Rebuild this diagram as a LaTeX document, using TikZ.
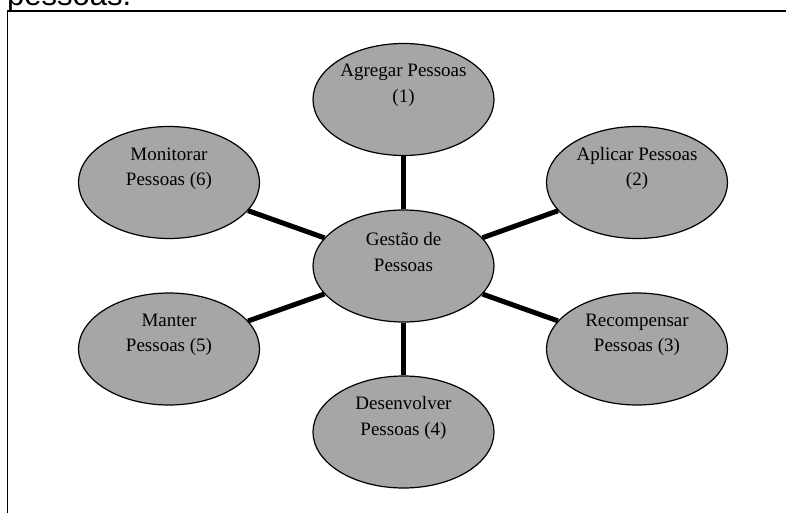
\documentclass[tikz,border=0pt]{standalone}
\usepackage{fontspec}
\setmainfont{Liberation Serif}
\newfontfamily\headfont{Liberation Sans}
\usepackage{xcolor}
\usepackage{tikz}
\usetikzlibrary{shapes.geometric}

\definecolor{blobgray}{RGB}{166,166,166}

\begin{document}
\begin{tikzpicture}[x=1pt, y=-1pt,
        blob/.style={draw, ellipse, line width=1.2pt, fill=blobgray, minimum width=181pt, minimum height=112pt, inner sep=0pt},
        txt/.style={align=center, inner sep=0pt, font=\fontsize{19}{25.5}\selectfont},
        spoke/.style={line width=5pt}
    ]
    \useasboundingbox (0,0) rectangle (786,513);

    % Caption cut off at the top
    \node[anchor=base west, inner sep=0pt, font=\headfont\fontsize{31}{31}\selectfont] (caption) at (7,6) {pessoas.};

    % Frame
    \draw[line width=1.5pt] (7.5,530) |- (800,11);

    % Centre block
    \node[blob] (gestao) at (403.5,266) {};

    % Outer blocks
    \node[blob] (agregar) at (403.5,99.5) {};
    \node[blob] (aplicar) at (637,182.5) {};
    \node[blob] (recompensar) at (637,349) {};
    \node[blob] (desenvolver) at (403.5,432) {};
    \node[blob] (manter) at (169,349) {};
    \node[blob] (monitorar) at (169,182.5) {};

    % Spokes
    \draw[spoke] (gestao) -- (agregar);
    \draw[spoke] (gestao) -- (aplicar);
    \draw[spoke] (gestao) -- (recompensar);
    \draw[spoke] (gestao) -- (desenvolver);
    \draw[spoke] (gestao) -- (manter);
    \draw[spoke] (gestao) -- (monitorar);

    % Texts
    \node[txt] (gestao-t) at ([yshift=14pt]gestao.center) {Gestão de\\Pessoas};
    \node[txt] (agregar-t) at ([yshift=14pt]agregar.center) {Agregar Pessoas\\(1)};
    \node[txt] (aplicar-t) at ([yshift=14pt]aplicar.center) {Aplicar Pessoas\\(2)};
    \node[txt] (recompensar-t) at ([yshift=14pt]recompensar.center) {Recompensar\\Pessoas (3)};
    \node[txt] (desenvolver-t) at ([yshift=14pt]desenvolver.center) {Desenvolver\\Pessoas (4)};
    \node[txt] (manter-t) at ([yshift=14pt]manter.center) {Manter\\Pessoas (5)};
    \node[txt] (monitorar-t) at ([yshift=14pt]monitorar.center) {Monitorar\\Pessoas (6)};

\end{tikzpicture}
\end{document}
